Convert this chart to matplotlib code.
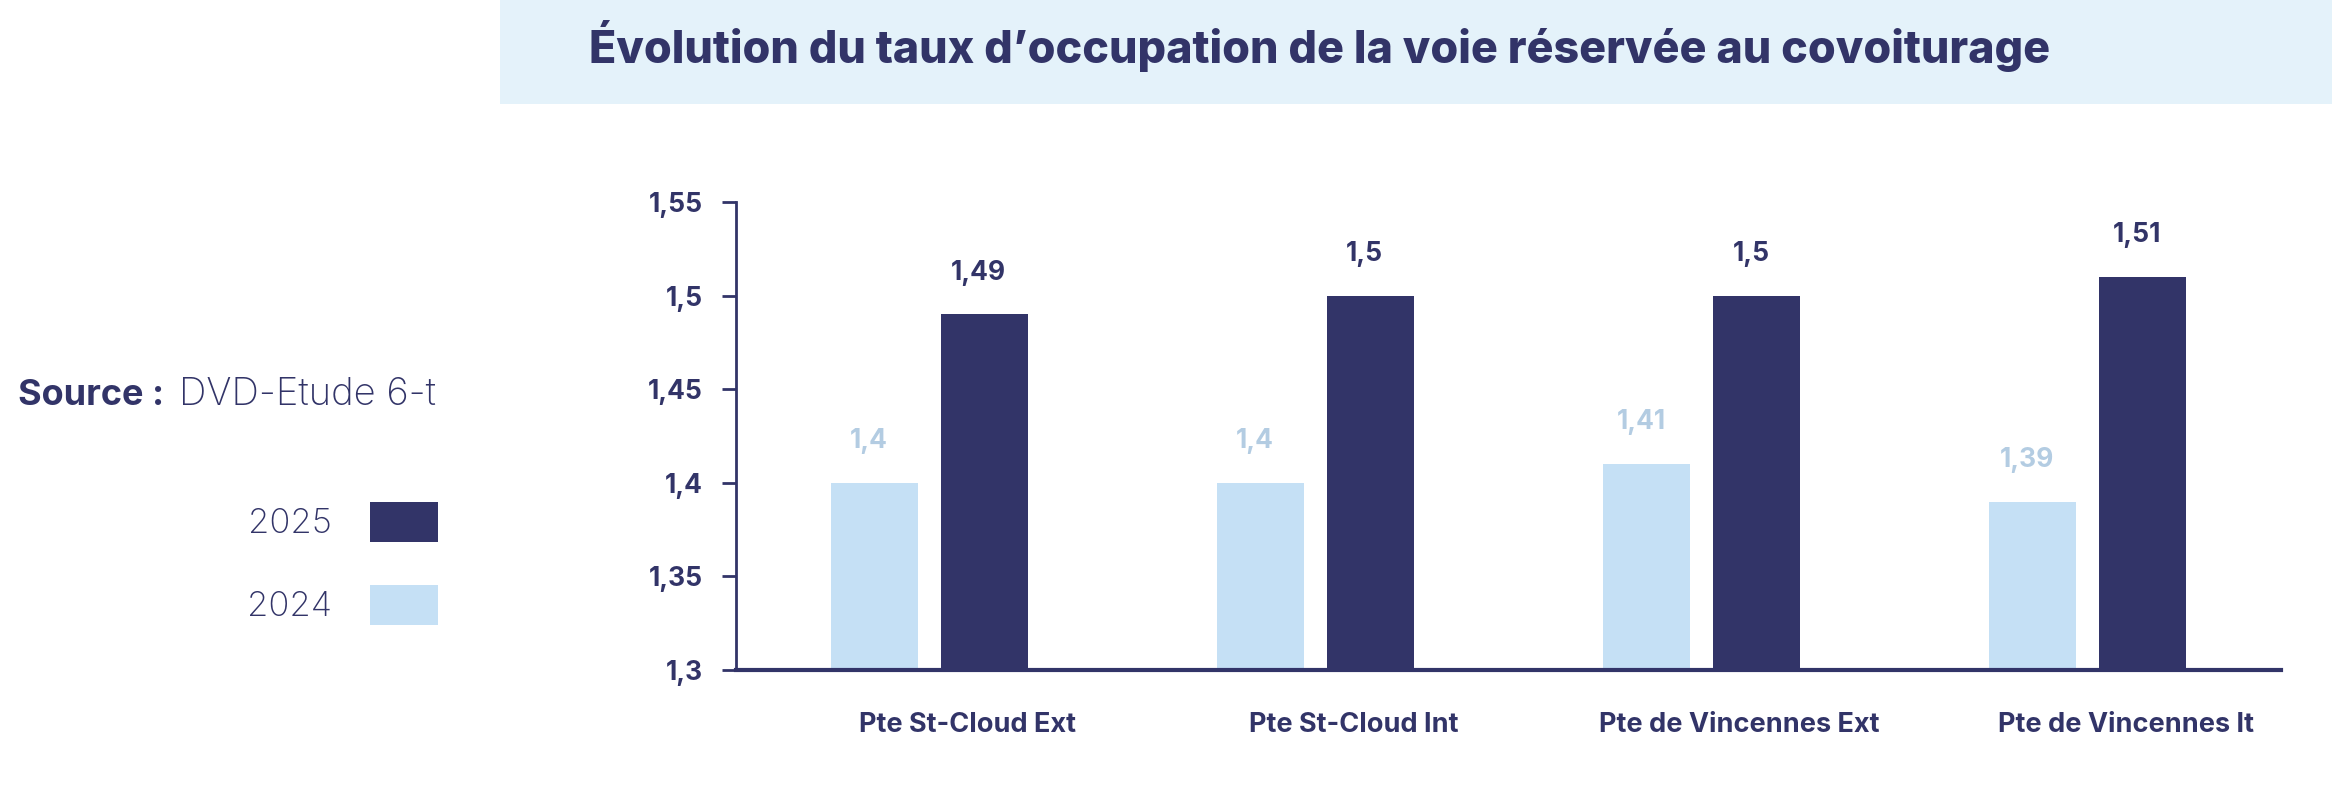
import matplotlib
matplotlib.use('Agg')
import matplotlib.pyplot as plt
from matplotlib.patches import Rectangle
from matplotlib.transforms import ScaledTranslation
import numpy as np

# data
categories = ['Pte St-Cloud Ext', 'Pte St-Cloud Int', 'Pte de Vincennes Ext', 'Pte de Vincennes It']
values_2024 = [1.40, 1.40, 1.41, 1.39]
values_2025 = [1.49, 1.50, 1.50, 1.51]
y_ticks = [1.3, 1.35, 1.4, 1.45, 1.5, 1.55]

NAVY = '#323468'
LIGHT = '#C5E0F5'
LIGHT_TXT = '#B3CCE2'
TITLE_BG = '#E4F2FA'

plt.rcParams['font.family'] = ['Inter', 'DejaVu Sans']

def fr(v):
	return ('%g' % v).replace('.', ',')

fig = plt.figure(figsize=(23.32, 7.88), dpi=100)

# title band
fig.patches.append(Rectangle((500 / 2332, 1 - 104 / 788), 1, 104 / 788,
	transform=fig.transFigure, facecolor=TITLE_BG, edgecolor='none', zorder=0))
fig.text(589 / 2332, 1 - 63 / 788, 'Évolution du taux d\u2019occupation de la voie réservée au covoiturage',
	fontsize=32.3, fontweight='heavy', color=NAVY, va='baseline', ha='left')

ax = fig.add_axes([736 / 2332, 118 / 788, 1545 / 2332, 468 / 788])
x = np.arange(len(categories))
w = 0.225
off = 0.1425
b24 = ax.bar(x - off, values_2024, w, color=LIGHT, zorder=2)
b25 = ax.bar(x + off, values_2025, w, color=NAVY, zorder=2)

for rect, v in zip(b24, values_2024):
	ax.annotate(fr(v), (rect.get_x() + rect.get_width() / 2, v), xytext=(-4, 25),
		textcoords='offset points', ha='center', va='baseline',
		fontsize=19, fontweight='bold', color=LIGHT_TXT)
for rect, v in zip(b25, values_2025):
	ax.annotate(fr(v), (rect.get_x() + rect.get_width() / 2, v), xytext=(-4, 25),
		textcoords='offset points', ha='center', va='baseline',
		fontsize=19, fontweight='bold', color=NAVY)

ax.set_xlim(-0.5, len(categories) - 0.5)
ax.set_ylim(1.3, 1.55)
ax.set_yticks(y_ticks)
ax.set_yticklabels([fr(t) for t in y_ticks])
ax.set_xticks(x)
ax.set_xticklabels(categories)

for s in ['top', 'right']:
	ax.spines[s].set_visible(False)
ax.spines['left'].set_color(NAVY)
ax.spines['left'].set_linewidth(2)
ax.spines['bottom'].set_color(NAVY)
ax.spines['bottom'].set_linewidth(3)
ax.spines['bottom'].set_zorder(3)

ax.tick_params(axis='y', direction='out', length=10, width=2, color=NAVY, pad=24,
	labelsize=19, labelcolor=NAVY)
ax.tick_params(axis='x', length=0, pad=30, labelsize=19.5, labelcolor=NAVY)
for lab in ax.get_yticklabels() + ax.get_xticklabels():
	lab.set_fontweight('bold')
for lab in ax.get_yticklabels():
	lab.set_horizontalalignment('right')
	lab.set_transform(lab.get_transform() + ScaledTranslation(0.14, 0, fig.dpi_scale_trans))
for lab in ax.get_xticklabels():
	lab.set_transform(lab.get_transform() + ScaledTranslation(0.38, 0, fig.dpi_scale_trans))

# source note
fig.text(18 / 2332, 1 - 405 / 788, 'Source :', fontsize=26, fontweight='bold', color=NAVY, va='baseline')
fig.text(179 / 2332, 1 - 405 / 788, 'DVD-Etude 6-t', fontsize=27.5, fontweight='light', color=NAVY, va='baseline')

# legend
for lbl, col, yc in [('2025', NAVY, 522), ('2024', LIGHT, 605)]:
	fig.patches.append(Rectangle((370 / 2332, 1 - (yc + 20) / 788), 68 / 2332, 40 / 788,
		transform=fig.transFigure, facecolor=col, edgecolor='none'))
	fig.text(332 / 2332, 1 - (yc + 11) / 788, lbl, fontsize=25, fontweight='light',
		color=NAVY, ha='right', va='baseline')

fig.savefig('out.png', dpi=100)
